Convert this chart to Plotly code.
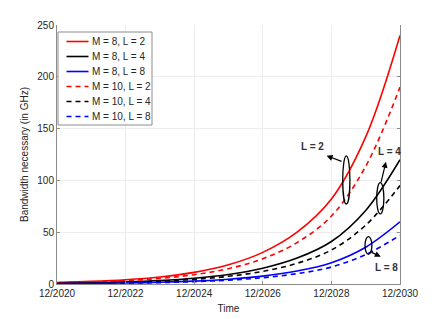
import plotly.graph_objects as go

years = [2020, 2021, 2022, 2023, 2024, 2025, 2026, 2027, 2028, 2029, 2030]
tick_years = [2020, 2022, 2024, 2026, 2028, 2030]
tick_labels = ["12/2020", "12/2022", "12/2024", "12/2026", "12/2028", "12/2030"]

m8_l2 = [1.5, 2.5, 4.1, 6.8, 11.2, 18.5, 30.5, 50, 82, 142, 240]
m8_l4 = [0.75, 1.25, 2.05, 3.4, 5.6, 9.2, 15.2, 25, 41, 71, 120]
m8_l8 = [0.38, 0.62, 1.0, 1.7, 2.8, 4.6, 7.6, 12.5, 20.5, 35.5, 60]
m10_l2 = [1.2, 2.0, 3.3, 5.4, 9.0, 14.8, 24.4, 40, 65.6, 113.6, 190]
m10_l4 = [0.6, 1.0, 1.65, 2.7, 4.5, 7.4, 12.2, 20, 32.8, 56.8, 95]
m10_l8 = [0.3, 0.5, 0.82, 1.35, 2.25, 3.7, 6.1, 10, 16.4, 28.4, 47]

series = [
    ("M = 8, L = 2", m8_l2, "#ff0000", "solid"),
    ("M = 8, L = 4", m8_l4, "#000000", "solid"),
    ("M = 8, L = 8", m8_l8, "#0000ff", "solid"),
    ("M = 10, L = 2", m10_l2, "#ff0000", "5px,4px"),
    ("M = 10, L = 4", m10_l4, "#000000", "5px,4px"),
    ("M = 10, L = 8", m10_l8, "#0000ff", "5px,4px"),
]

W, H = 443, 319
ML, MR, MT, MB = 57, 43, 25, 35
PW, PH = W - ML - MR, H - MT - MB


def px(x):
    return (x - ML) / PW


def py(y):
    return (H - MB - y) / PH


fig = go.Figure()
for name, vals, col, dash in series:
    fig.add_trace(go.Scatter(x=years, y=vals, name=name, mode="lines", showlegend=False,
                             line=dict(color=col, width=1.6, dash=dash, shape="spline")))

txt = "#262626"
axcol = "#8c8c8c"
fig.update_layout(
    width=W, height=H,
    margin=dict(l=ML, r=MR, t=MT, b=MB, autoexpand=False),
    paper_bgcolor="white", plot_bgcolor="white",
    font=dict(family="Liberation Sans, Arial", size=10, color=txt),
    showlegend=False,
)
fig.update_xaxes(range=[2020, 2030], tickvals=tick_years, ticktext=tick_labels,
                 automargin=False,
                 showline=True, linecolor=axcol, linewidth=1, mirror=False,
                 ticks="inside", ticklen=3, tickcolor=axcol,
                 showgrid=True, gridcolor="#ededed", gridwidth=1, zeroline=False,
                 title=dict(text="Time", standoff=6, font=dict(size=10, color=txt)))
fig.update_yaxes(range=[0, 250], tickvals=[0, 50, 100, 150, 200, 250],
                 automargin=False,
                 showline=True, linecolor=axcol, linewidth=1, mirror="ticks",
                 ticks="inside", ticklen=3, tickcolor=axcol,
                 showgrid=True, gridcolor="#ededed", gridwidth=1, zeroline=False,
                 title=dict(text="Bandwidth necessary (in GHz)", standoff=6,
                            font=dict(size=10, color=txt)))

# legend (drawn manually to match compact row spacing)
fig.add_shape(type="rect", xref="paper", yref="paper",
              x0=px(58), x1=px(152), y0=py(125), y1=py(32),
              fillcolor="white", line=dict(color=axcol, width=1))
for i, (name, vals, col, dash) in enumerate(series):
    yy = py(41.5 + 15 * i)
    fig.add_shape(type="line", xref="paper", yref="paper",
                  x0=px(66.5), x1=px(88.5), y0=yy, y1=yy,
                  line=dict(color=col, width=1.6, dash=dash))
    fig.add_annotation(x=px(89.5), y=yy, xref="paper", yref="paper", text=name,
                       showarrow=False, xanchor="left", yanchor="middle",
                       font=dict(size=10, color=txt))

# ellipses
ell = [
    (2028.33, 2028.54, 77.2, 123.6),
    (2029.32, 2029.53, 67.6, 97.8),
    (2028.98, 2029.18, 28.7, 45.7),
]
for x0, x1, y0, y1 in ell:
    fig.add_shape(type="circle", xref="x", yref="y", x0=x0, x1=x1, y0=y0, y1=y1,
                  line=dict(color="black", width=1.3))

arrows = [
    ((2028.34, 117.8), (2027.86, 123.8)),
    ((2029.44, 97.2), (2029.59, 118.0)),
    ((2029.13, 31.2), (2029.44, 26.4)),
]
for (tx, ty), (hx, hy) in arrows:
    fig.add_annotation(x=hx, y=hy, ax=tx, ay=ty, xref="x", yref="y", axref="x", ayref="y",
                       text="", showarrow=True, arrowhead=2, arrowsize=1, arrowwidth=1.2,
                       arrowcolor="black")

labels = [("L = 2", 2027.45, 132.7), ("L = 4", 2029.68, 127.9), ("L = 8", 2029.61, 16.4)]
for t, x, y in labels:
    fig.add_annotation(x=x, y=y, xref="x", yref="y", text="<b>" + t + "</b>", showarrow=False,
                       font=dict(size=10, color="#333333"))

fig.write_html("out.html", config={"displayModeBar": False},
               post_script="document.body.style.margin='0';document.body.style.padding='0';")
